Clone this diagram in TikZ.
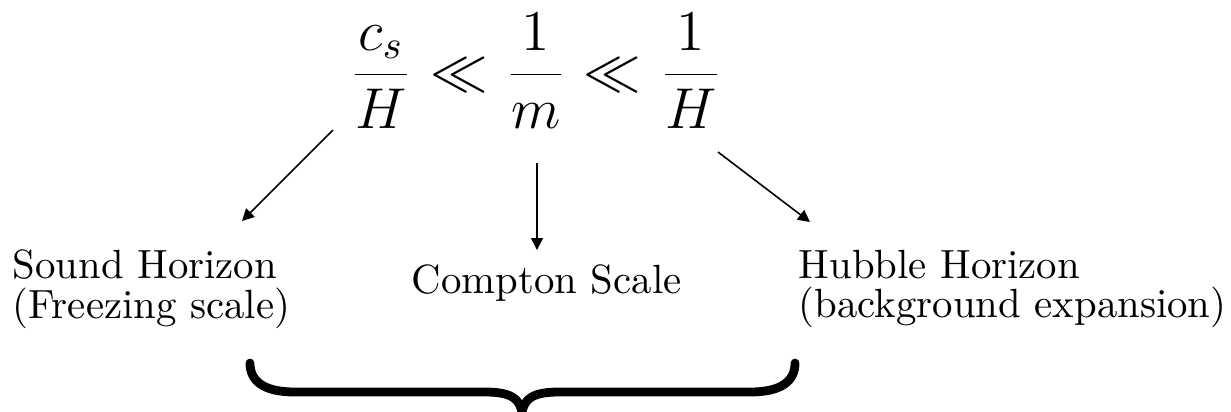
\documentclass[tikz,border=0pt]{standalone}
\usetikzlibrary{arrows.meta}
\begin{document}
\begin{tikzpicture}[x=0.25pt,y=0.25pt,
  lbl/.style={inner sep=0pt, font=\fontsize{10.2}{9.9}\selectfont, align=left},
  frac/.style={inner sep=0pt, anchor=base, font=\Large},
  arr/.style={line width=0.4pt, -{Triangle[length=3pt,width=3pt]}},
  bracestyle/.style={line width=2.2pt, line cap=round}]
\useasboundingbox (0,0) rectangle (1231,411);
% formula
\node[frac] (fa) at (381,322) {$\displaystyle\frac{c_s}{H}$};
\node[frac] (l1) at (459,322) {$\ll$};
\node[frac] (fb) at (536,322) {$\displaystyle\frac{1}{m}$};
\node[frac] (l2) at (612,322) {$\ll$};
\node[frac] (fc) at (691,322) {$\displaystyle\frac{1}{H}$};
% labels
\node[lbl, anchor=north west] (sound) at (12,162) {Sound Horizon\\(Freezing scale)};
\node[lbl, anchor=base west] (compton) at (411,118) {Compton Scale};
\node[lbl, anchor=north west] (hubble) at (798,162) {Hubble Horizon\\(background expansion)};
% arrow ends
\coordinate (sA) at (333,281); \coordinate (tA) at (242,190);
\coordinate (sB) at (537,248); \coordinate (tB) at (537,161);
\coordinate (sC) at (718,259); \coordinate (tC) at (810,189);
\draw[arr] (sA) -- (tA);
\draw[arr] (sB) -- (tB);
\draw[arr] (sC) -- (tC);
% brace
\draw[bracestyle] (250,48) .. controls (250,31) and (262,19) .. (295,19) -- (485,19)
  .. controls (510,19) and (520,13) .. (522,-2)
  .. controls (524,13) and (534,19) .. (559,19) -- (750,19)
  .. controls (783,19) and (795,31) .. (795,48);
\end{tikzpicture}
\end{document}
